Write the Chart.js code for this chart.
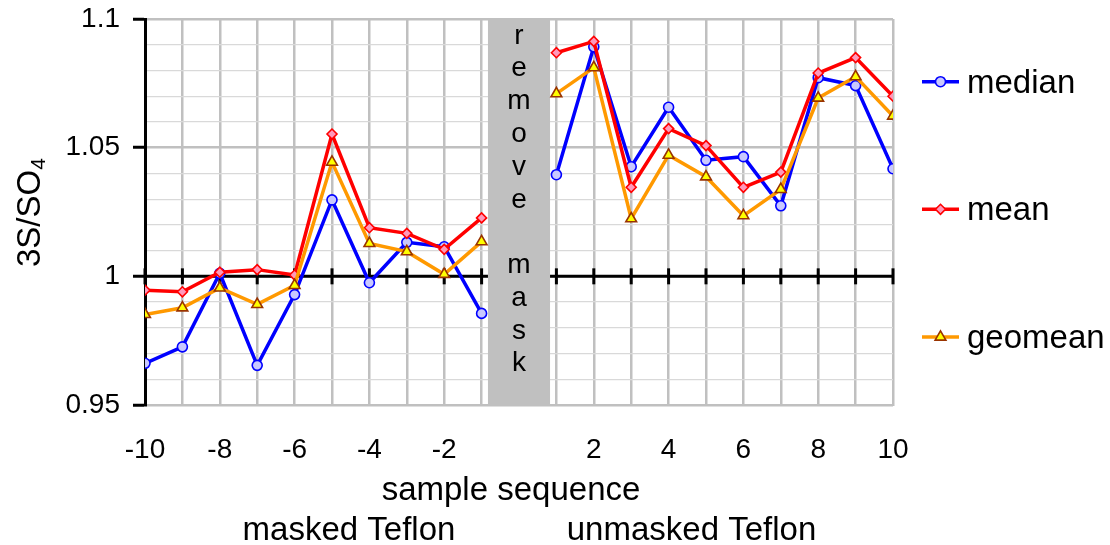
<!DOCTYPE html>
<html><head><meta charset="utf-8">
<script src="https://cdn.jsdelivr.net/npm/chart.js@4.4.0/dist/chart.umd.min.js"></script>
<style>html,body{margin:0;padding:0;background:#fff;}#wrap{width:1110px;height:545px;}</style>
</head><body><div id="wrap"><canvas id="c" width="1110" height="545"></canvas></div>
<script>
const sequence = [-10,-9,-8,-7,-6,-5,-4,-3,-2,-1,1,2,3,4,5,6,7,8,9,10];
const median  = [0.9662,0.9726,1.0012,0.9654,0.9929,1.0297,0.9975,1.0132,1.0115,0.9856,1.0395,1.0892,1.0426,1.0657,1.0451,1.0465,1.0274,1.0772,1.0741,1.0418];
const mean    = [0.9946,0.9940,1.0016,1.0026,1.0005,1.0553,1.0189,1.0167,1.0105,1.0227,1.0869,1.0913,1.0346,1.0574,1.0508,1.0346,1.0405,1.0790,1.0850,1.0700];
const geomean = [0.9852,0.9878,0.9955,0.9891,0.9965,1.0444,1.0128,1.0096,1.0008,1.0135,1.0710,1.0811,1.0224,1.0471,1.0387,1.0236,1.0338,1.0693,1.0776,1.0623];
const seriesNames = ['median','mean','geomean'];
const xTicks = [-10,-9,-8,-7,-6,-5,-4,-3,-2,-1,0,1,2,3,4,5,6,7,8,9,10];
const xTickLabels = [-10,-8,-6,-4,-2,2,4,6,8,10];
const yTicks = [0.95,0.96,0.97,0.98,0.99,1.00,1.01,1.02,1.03,1.04,1.05,1.06,1.07,1.08,1.09,1.10];
const yTickLabels = [0.95,1,1.05,1.1];
const maskBand = [-0.83, 0.83];
const maskText = ['r','e','m','o','v','e','','m','a','s','k'];
const xTitle = 'sample sequence';
const groupLabels = ['masked Teflon','unmasked Teflon'];

const FF = "'Liberation Sans', Arial, Helvetica, sans-serif";
const near = (a,b)=>Math.abs(a-b)<1e-6;
const isMajorY = v => yTickLabels.some(t=>near(t,v));
const pts = arr => sequence.map((x,i)=>({x:x,y:arr[i]}));
const gapSeg = {borderColor: c => (c.p0.parsed.x < 0 && c.p1.parsed.x > 0) ? 'rgba(0,0,0,0)' : undefined};

const styles = [
  {borderColor:'#0000ff', pointBackgroundColor:'#c8c8ff', pointBorderColor:'#0000ff', pointStyle:'circle', pointRadius:5, order:3},
  {borderColor:'#ff0000', pointBackgroundColor:'#ff99bb', pointBorderColor:'#ff0000', pointStyle:'rectRot', pointRadius:5, order:2},
  {borderColor:'#ff9900', pointBackgroundColor:'#ffff00', pointBorderColor:'#993300', pointStyle:'triangle', pointRadius:6.2, order:1}
];
const seriesData = [median, mean, geomean];
const datasets = seriesData.map((arr,i)=>Object.assign({
  label: seriesNames[i], data: pts(arr), borderWidth:3.5, pointBorderWidth:1.6,
  tension:0, fill:false, segment: gapSeg
}, styles[i]));

const annot = {
  id:'annot',
  beforeDatasetsDraw(chart){
    const {ctx, chartArea:a, scales:{x,y}} = chart;
    const y1 = y.getPixelForValue(1);
    ctx.save();
    ctx.strokeStyle='#000'; ctx.lineWidth=3;
    ctx.beginPath(); ctx.moveTo(a.left, y1); ctx.lineTo(a.right, y1); ctx.stroke();
    xTicks.forEach(v=>{ const px=x.getPixelForValue(v); ctx.beginPath(); ctx.moveTo(px,y1-8); ctx.lineTo(px,y1+8); ctx.stroke(); });
    const bl = x.getPixelForValue(maskBand[0]), br = x.getPixelForValue(maskBand[1]);
    ctx.fillStyle='#c0c0c0';
    ctx.fillRect(bl, a.top, br-bl, a.bottom-a.top);
    ctx.fillStyle='#000'; ctx.font='28px '+FF; ctx.textAlign='center'; ctx.textBaseline='alphabetic';
    const cx=(bl+br)/2;
    maskText.forEach((t,i)=>{ if(t) ctx.fillText(t, cx, a.top+24.7+i*32.77); });
    ctx.restore();
  },
  afterDraw(chart){
    const {ctx} = chart;
    ctx.save();
    ctx.fillStyle='#000'; ctx.textBaseline='alphabetic';
    ctx.save();
    ctx.translate(40, 267); ctx.rotate(-Math.PI/2);
    ctx.textAlign='left'; ctx.font='33px '+FF;
    ctx.fillText('3S/SO',0,0);
    const w = ctx.measureText('3S/SO').width;
    ctx.font='21px '+FF; ctx.fillText('4', w, 5);
    ctx.restore();
    ctx.font='33px '+FF; ctx.textAlign='center';
    ctx.fillText(xTitle, 511, 500);
    ctx.fillText(groupLabels[0], 349, 540);
    ctx.fillText(groupLabels[1], 691.5, 540);
    const ly=[81.7,209.3,337];
    chart.data.datasets.forEach((d,i)=>{
      ctx.strokeStyle=d.borderColor; ctx.lineWidth=3.5;
      ctx.beginPath(); ctx.moveTo(922,ly[i]); ctx.lineTo(959,ly[i]); ctx.stroke();
      ctx.fillStyle=d.pointBackgroundColor; ctx.strokeStyle=d.pointBorderColor; ctx.lineWidth=1.6;
      Chart.helpers.drawPoint(ctx,{pointStyle:d.pointStyle, radius:d.pointRadius, rotation:0, borderWidth:1.6}, 940.5, ly[i]);
      ctx.fillStyle='#000'; ctx.textAlign='left'; ctx.font='33px '+FF;
      ctx.fillText(d.label, 967, ly[i]+11);
    });
    ctx.restore();
  }
};

new Chart(document.getElementById('c'), {
  type:'line',
  data:{datasets},
  plugins:[annot],
  options:{
    responsive:false, animation:false, devicePixelRatio:1,
    layout:{padding:{top:19,right:217,left:0,bottom:0}},
    plugins:{legend:{display:false}, tooltip:{enabled:false}},
    scales:{
      x:{type:'linear', min:-10, max:10,
        afterFit:s=>{s.height=140; s.paddingLeft=0; s.paddingRight=0;},
        afterBuildTicks:s=>{s.ticks=xTicks.map(v=>({value:v}));},
        ticks:{autoSkip:false, maxRotation:0, padding:28, color:'#000', font:{size:28,family:FF},
          callback:v=> xTickLabels.includes(v) ? String(v) : ''},
        grid:{color:'#c0c0c0', lineWidth:2.5, drawTicks:false},
        border:{display:true, color:'#c0c0c0', width:2}
      },
      y:{type:'linear', min:0.95, max:1.1,
        afterFit:s=>{s.width=145; s.paddingTop=0; s.paddingBottom=0;},
        afterBuildTicks:s=>{s.ticks=yTicks.map(v=>({value:v}));},
        ticks:{autoSkip:false, padding:13, color:'#000', font:{size:28,family:FF},
          callback:v=> isMajorY(v) ? String(Math.round(v*100)/100) : ''},
        grid:{color:c=> isMajorY(c.tick.value)?'#c0c0c0':'#d9d9d9',
              lineWidth:c=> isMajorY(c.tick.value)?2.5:1.2,
              tickColor:c=> isMajorY(c.tick.value)?'#000':'rgba(0,0,0,0)',
              tickLength:12, tickWidth:3},
        border:{display:true, color:'#000', width:3}
      }
    }
  }
});
</script></body></html>
